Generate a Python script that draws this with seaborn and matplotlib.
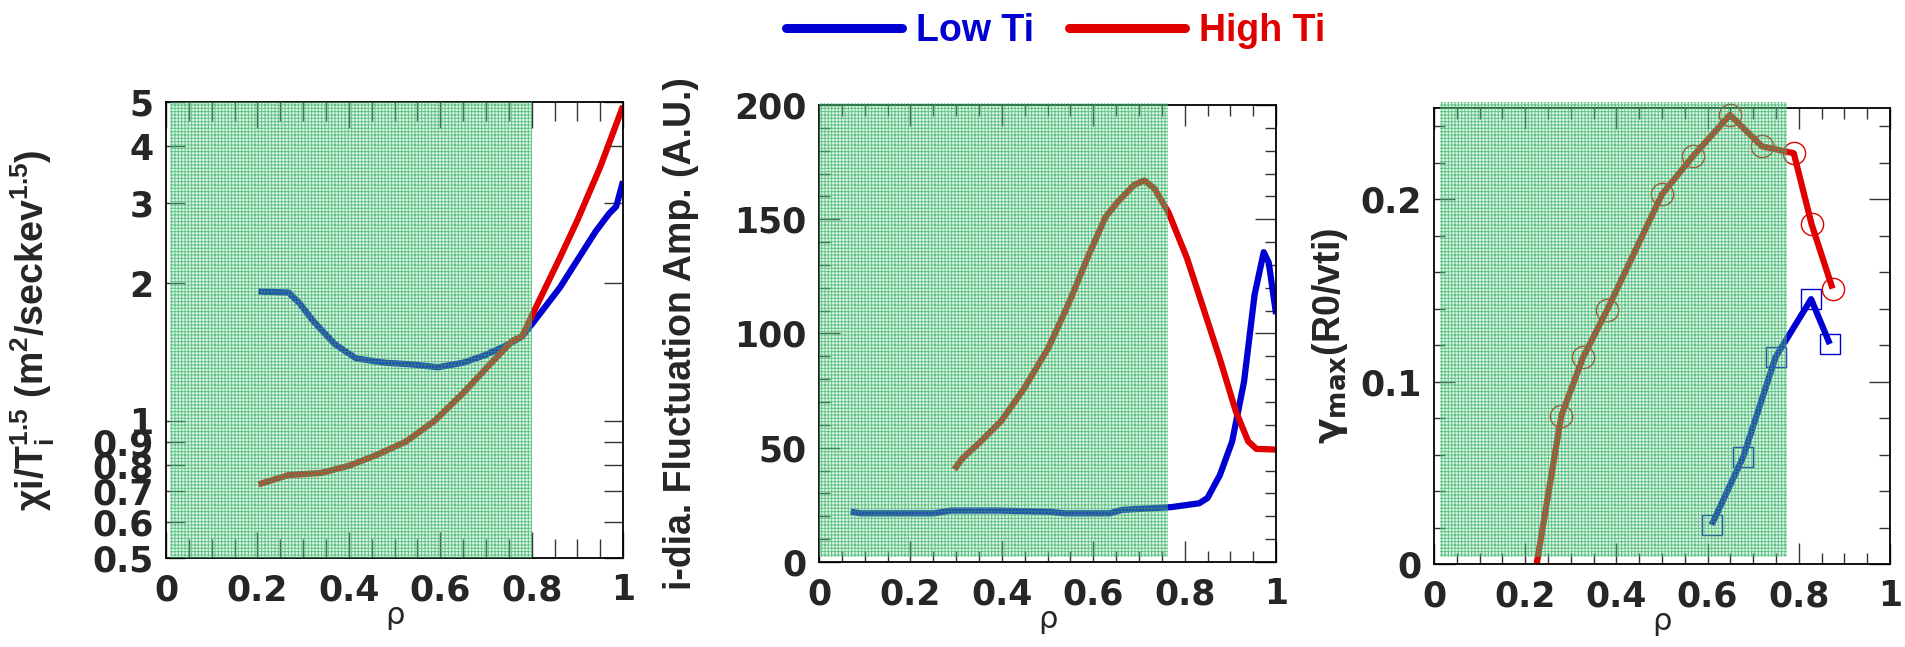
"""
Three-panel profile comparison: Low Ti vs High Ti
(chi_i / T_i^1.5, i-dia. fluctuation amplitude, gamma_max)
"""

import matplotlib
matplotlib.use('Agg')
import matplotlib.pyplot as plt
from matplotlib.lines import Line2D
from matplotlib.ticker import MultipleLocator, FixedLocator, NullLocator
import seaborn as sns
import warnings

warnings.filterwarnings('ignore')

# ---- Data ----
# Panel 1: chi_i / T_i^1.5 (log scale)
chi_rho_low = [0.202, 0.268, 0.292, 0.323, 0.370, 0.416, 0.479, 0.533, 0.595, 0.650, 0.696,
               0.743, 0.779, 0.803, 0.862, 0.90, 0.94, 0.97, 0.985, 1.0]
chi_low = [1.92, 1.91, 1.81, 1.65, 1.47, 1.37, 1.34, 1.33, 1.31, 1.34, 1.39,
           1.46, 1.53, 1.64, 1.96, 2.25, 2.6, 2.85, 2.95, 3.35]
chi_rho_high = [0.202, 0.268, 0.339, 0.401, 0.463, 0.525, 0.588, 0.650, 0.712, 0.759, 0.779,
                0.803, 0.862, 0.90, 0.95, 1.0]
chi_high = [0.725, 0.76, 0.768, 0.797, 0.843, 0.90, 1.0, 1.15, 1.34, 1.50, 1.53,
            1.72, 2.28, 2.75, 3.6, 4.9]

# Panel 2: i-dia. fluctuation amplitude
amp_rho_low = [0.069, 0.091, 0.252, 0.288, 0.395, 0.502, 0.538, 0.636, 0.663, 0.770, 0.832,
               0.850, 0.877, 0.904, 0.930, 0.953, 0.973, 0.984, 1.0]
amp_low = [22, 21.3, 21.3, 22.5, 22.5, 22, 21.3, 21.3, 22.8, 24, 25.7,
           28, 38, 52.8, 79, 117, 135.6, 131, 108.5]
amp_rho_high = [0.296, 0.314, 0.350, 0.399, 0.448, 0.502, 0.546, 0.591, 0.627, 0.654, 0.689,
                0.712, 0.734, 0.765, 0.805, 0.841, 0.877, 0.912, 0.939, 0.957, 1.0]
amp_high = [40.5, 45.4, 52, 61.8, 75.7, 93.8, 113, 134.8, 151, 157.7, 165,
            167, 163.4, 152.8, 133, 111, 88.9, 65.9, 52.8, 49.5, 49.2]

# Panel 3: gamma_max (R0/vti)
gam_rho_low = [0.609, 0.678, 0.749, 0.827, 0.868]
gam_low = [0.0215, 0.0587, 0.1134, 0.1452, 0.1206]
gam_rho_high = [0.225, 0.279, 0.327, 0.379, 0.500, 0.568, 0.649, 0.719, 0.789, 0.828, 0.874]
gam_high = [0.0, 0.0812, 0.1134, 0.139, 0.2027, 0.2236, 0.2462, 0.229, 0.2252, 0.1863, 0.151]

chi_ticks = [0.5, 0.6, 0.7, 0.8, 0.9, 1, 2, 3, 4, 5]
chi_tick_labels = ['0.5', '0.6', '0.7', '0.8', '0.9', '1', '2', '3', '4', '5']
x_tick_labels = ['0', '0.2', '0.4', '0.6', '0.8', '1']

# ---- Style ----
sns.set_theme(style='ticks')
plt.rcParams['font.family'] = ['DejaVu Sans']
plt.rcParams['font.weight'] = 'bold'
plt.rcParams['mathtext.fontset'] = 'custom'
plt.rcParams['mathtext.rm'] = 'Liberation Sans:bold'
plt.rcParams['mathtext.it'] = 'Liberation Sans:bold'
plt.rcParams['mathtext.bf'] = 'Liberation Sans:bold'
plt.rcParams['mathtext.default'] = 'rm'
plt.rcParams['hatch.linewidth'] = 0.7
plt.rcParams['axes.linewidth'] = 1.3

blue = '#0000d2'
red = '#e00000'
lw = 4.5
tick_size = 25
label_font = dict(family=['Liberation Sans', 'DejaVu Sans'], weight='bold', size=27)
rho_font = dict(family=['DejaVu Sans'], weight='normal', size=22)

fig = plt.figure(figsize=(19.06, 6.47), dpi=100)
ax1 = fig.add_axes([0.0871, 0.1376, 0.2398, 0.7048])
ax2 = fig.add_axes([0.4297, 0.1314, 0.2398, 0.7063])
ax3 = fig.add_axes([0.7524, 0.1283, 0.2392, 0.7048])


def shade(ax, x0, x1, ymin=0.0, ymax=1.0):
    """Green hatched overlay over the inner region"""
    ax.axvspan(x0, x1, ymin=ymin, ymax=ymax, facecolor=(0.60, 0.87, 0.68, 0.30),
               edgecolor=(0.12, 0.66, 0.34, 0.65), hatch='+++++', linewidth=0,
               zorder=5, clip_on=False)


def style_axis(ax, maj_len, min_len):
    ax.tick_params(which='both', direction='in', top=True, right=True, width=1.0,
                   color='#333333', labelsize=tick_size, pad=9)
    ax.tick_params(axis='x', which='both', pad=11)
    ax.tick_params(which='major', length=maj_len)
    ax.tick_params(which='minor', length=min_len)
    for sp in ax.spines.values():
        sp.set_visible(True)
        sp.set_color('black')
    ax.set_xlim(0, 1)
    ax.xaxis.set_major_locator(FixedLocator([0, 0.2, 0.4, 0.6, 0.8, 1.0]))
    ax.set_xticklabels(x_tick_labels)
    ax.xaxis.set_minor_locator(MultipleLocator(0.05))
    ax.set_xlabel('ρ', fontdict=rho_font)
    ax.xaxis.set_label_coords(0.5, -0.095)


# Panel 1
sns.lineplot(x=chi_rho_low, y=chi_low, ax=ax1, color=blue, lw=lw, sort=False,
             estimator=None, solid_capstyle='butt', zorder=2)
sns.lineplot(x=chi_rho_high, y=chi_high, ax=ax1, color=red, lw=lw, sort=False,
             estimator=None, solid_capstyle='butt', zorder=2)
ax1.set_yscale('log')
ax1.set_ylim(0.5, 5)
style_axis(ax1, 19, 14)
ax1.yaxis.set_major_locator(FixedLocator(chi_ticks))
ax1.yaxis.set_minor_locator(NullLocator())
ax1.set_yticklabels(chi_tick_labels)
ax1.tick_params(axis='y', which='major', length=14)
ax1.set_ylabel('χi/T$_{i}^{1.5}$ (m$^{2}$/seckev$^{1.5}$)', fontdict=label_font)
ax1.yaxis.set_label_coords(-0.238, 0.5)
shade(ax1, 0.008, 0.8, 0.0, 1.0)

# Panel 2
sns.lineplot(x=amp_rho_low, y=amp_low, ax=ax2, color=blue, lw=lw, sort=False,
             estimator=None, solid_capstyle='butt', zorder=2)
sns.lineplot(x=amp_rho_high, y=amp_high, ax=ax2, color=red, lw=lw, sort=False,
             estimator=None, solid_capstyle='butt', zorder=2)
ax2.set_ylim(0, 200)
style_axis(ax2, 15, 8)
ax2.yaxis.set_major_locator(MultipleLocator(50))
ax2.yaxis.set_minor_locator(MultipleLocator(10))
ax2.set_ylabel('i-dia. Fluctuation Amp. (A.U.)', fontdict=label_font)
ax2.yaxis.set_label_coords(-0.263, 0.5)
shade(ax2, 0.0, 0.763, 0.01, 1.004)

# Panel 3
sns.lineplot(x=gam_rho_low, y=gam_low, ax=ax3, color=blue, lw=lw, sort=False,
             estimator=None, solid_capstyle='butt', zorder=2)
sns.lineplot(x=gam_rho_high, y=gam_high, ax=ax3, color=red, lw=lw, sort=False,
             estimator=None, solid_capstyle='butt', zorder=2)
ax3.plot(gam_rho_low, gam_low, ls='none', marker='s', ms=14, mfc='none', mec=blue,
         mew=1.0, zorder=3, clip_on=False)
ax3.plot(gam_rho_high[1:], gam_high[1:], ls='none', marker='o', ms=16, mfc='none', mec=red,
         mew=1.0, zorder=3, clip_on=False)
ax3.set_ylim(0, 0.25)
style_axis(ax3, 15, 8)
ax3.yaxis.set_major_locator(FixedLocator([0, 0.1, 0.2]))
ax3.set_yticklabels(['0', '0.1', '0.2'])
ax3.yaxis.set_minor_locator(MultipleLocator(0.02))
ax3.set_ylabel(r'$\gamma_{\mathbf{max}}$(R0/vti)', fontdict=label_font,
               math_fontfamily='dejavusans')
ax3.yaxis.set_label_coords(-0.184, 0.5)
shade(ax3, 0.014, 0.775, 0.015, 1.013)

# Legend across the top
handles = [Line2D([], [], color=blue, lw=6.5), Line2D([], [], color=red, lw=6.5)]
leg = fig.legend(handles, ['Low Ti', 'High Ti'], loc='center', bbox_to_anchor=(0.554, 0.952),
                 ncol=2, frameon=False, handlelength=3.1, handletextpad=0.37, columnspacing=0.93,
                 prop=dict(family=['Liberation Sans'], weight='bold', size=27))
for txt, c in zip(leg.get_texts(), [blue, red]):
    txt.set_color(c)

fig.savefig('out.png', dpi=100)
